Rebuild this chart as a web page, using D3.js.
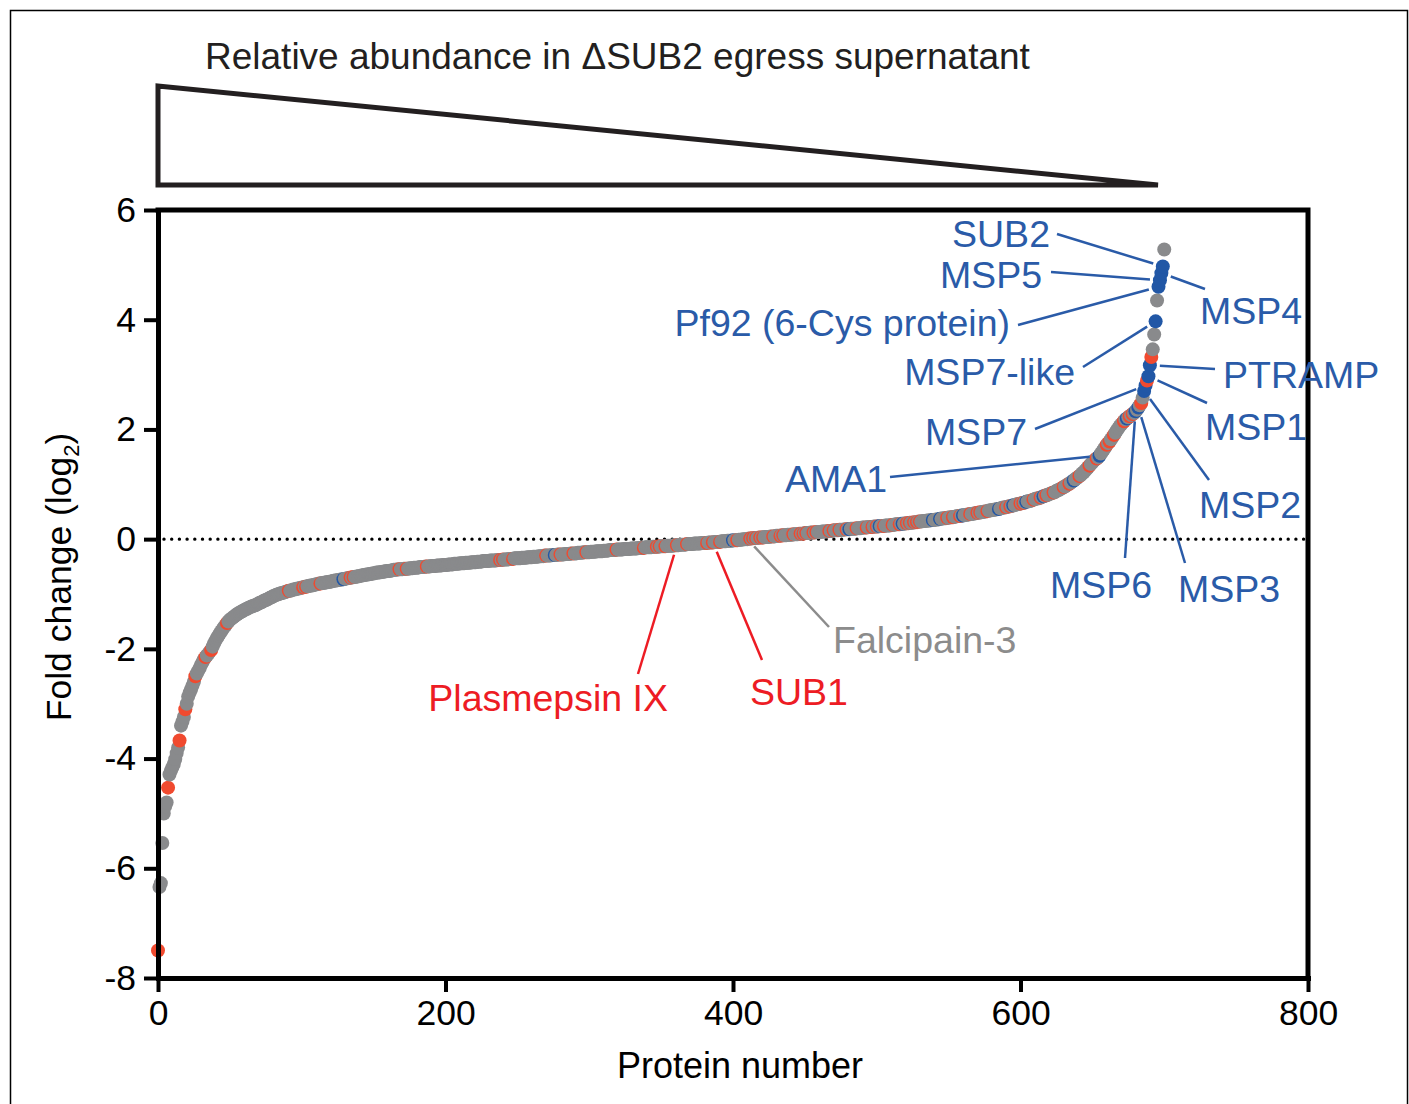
<!DOCTYPE html>
<html>
<head>
<meta charset="utf-8">
<script src="https://cdn.jsdelivr.net/npm/d3@7"></script>
<style>
  body { margin: 0; background: #fff; }
  text { font-family: "Liberation Sans", Arial, sans-serif; }
</style>
</head>
<body>
<svg id="chart"></svg>
<script>
// fold change (log2) per protein, sorted, protein number = index
const foldChange = [
  -7.50,-6.34,-6.27,-5.54,-5.00,-4.87,-4.80,-4.53,-4.29,-4.22,
  -4.16,-4.10,-4.01,-3.90,-3.80,-3.67,-3.40,-3.33,-3.24,-3.10,
  -3.00,-2.87,-2.80,-2.74,-2.67,-2.60,-2.50,-2.45,-2.40,-2.35,
  -2.29,-2.24,-2.19,-2.15,-2.12,-2.09,-2.05,-2.02,-1.96,-1.90,
  -1.85,-1.80,-1.76,-1.72,-1.68,-1.64,-1.60,-1.57,-1.53,-1.50,
  -1.47,-1.45,-1.43,-1.41,-1.39,-1.37,-1.35,-1.34,-1.32,-1.31,
  -1.29,-1.28,-1.27,-1.25,-1.24,-1.23,-1.22,-1.21,-1.20,-1.19,
  -1.17,-1.16,-1.15,-1.13,-1.12,-1.11,-1.10,-1.08,-1.07,-1.06,
  -1.04,-1.03,-1.02,-1.01,-1.00,-0.99,-0.98,-0.98,-0.97,-0.96,
  -0.95,-0.94,-0.94,-0.93,-0.92,-0.92,-0.91,-0.90,-0.90,-0.89,
  -0.88,-0.88,-0.87,-0.87,-0.86,-0.85,-0.85,-0.84,-0.84,-0.83,
  -0.82,-0.82,-0.81,-0.81,-0.80,-0.80,-0.79,-0.79,-0.78,-0.78,
  -0.77,-0.77,-0.76,-0.76,-0.75,-0.75,-0.74,-0.74,-0.73,-0.73,
  -0.72,-0.72,-0.71,-0.71,-0.70,-0.70,-0.69,-0.69,-0.68,-0.68,
  -0.67,-0.67,-0.66,-0.66,-0.65,-0.65,-0.64,-0.64,-0.63,-0.63,
  -0.62,-0.62,-0.61,-0.61,-0.61,-0.60,-0.60,-0.59,-0.59,-0.58,
  -0.58,-0.58,-0.57,-0.57,-0.56,-0.56,-0.56,-0.55,-0.55,-0.55,
  -0.55,-0.54,-0.54,-0.54,-0.54,-0.53,-0.53,-0.53,-0.52,-0.52,
  -0.52,-0.52,-0.51,-0.51,-0.51,-0.51,-0.50,-0.50,-0.50,-0.50,
  -0.49,-0.49,-0.49,-0.49,-0.48,-0.48,-0.48,-0.48,-0.47,-0.47,
  -0.47,-0.47,-0.46,-0.46,-0.46,-0.46,-0.45,-0.45,-0.45,-0.45,
  -0.44,-0.44,-0.44,-0.44,-0.43,-0.43,-0.43,-0.43,-0.42,-0.42,
  -0.42,-0.42,-0.41,-0.41,-0.41,-0.41,-0.40,-0.40,-0.40,-0.40,
  -0.40,-0.39,-0.39,-0.39,-0.39,-0.39,-0.38,-0.38,-0.38,-0.38,
  -0.37,-0.37,-0.37,-0.37,-0.36,-0.36,-0.36,-0.36,-0.35,-0.35,
  -0.35,-0.35,-0.35,-0.34,-0.34,-0.34,-0.34,-0.33,-0.33,-0.33,
  -0.33,-0.32,-0.32,-0.32,-0.32,-0.31,-0.31,-0.31,-0.31,-0.30,
  -0.30,-0.30,-0.30,-0.30,-0.29,-0.29,-0.29,-0.29,-0.28,-0.28,
  -0.28,-0.28,-0.28,-0.27,-0.27,-0.27,-0.27,-0.26,-0.26,-0.26,
  -0.26,-0.26,-0.25,-0.25,-0.25,-0.25,-0.24,-0.24,-0.24,-0.24,
  -0.24,-0.23,-0.23,-0.23,-0.23,-0.22,-0.22,-0.22,-0.22,-0.22,
  -0.21,-0.21,-0.21,-0.21,-0.20,-0.20,-0.20,-0.20,-0.20,-0.19,
  -0.19,-0.19,-0.19,-0.19,-0.18,-0.18,-0.18,-0.18,-0.18,-0.17,
  -0.17,-0.17,-0.17,-0.17,-0.16,-0.16,-0.16,-0.16,-0.16,-0.15,
  -0.15,-0.15,-0.15,-0.15,-0.14,-0.14,-0.14,-0.14,-0.14,-0.13,
  -0.13,-0.13,-0.13,-0.13,-0.12,-0.12,-0.12,-0.12,-0.12,-0.11,
  -0.11,-0.11,-0.11,-0.10,-0.10,-0.10,-0.10,-0.10,-0.09,-0.09,
  -0.09,-0.09,-0.09,-0.08,-0.08,-0.08,-0.08,-0.08,-0.07,-0.07,
  -0.07,-0.07,-0.07,-0.06,-0.06,-0.06,-0.06,-0.05,-0.05,-0.05,
  -0.05,-0.05,-0.04,-0.04,-0.04,-0.04,-0.03,-0.03,-0.03,-0.03,
  -0.02,-0.02,-0.02,-0.02,-0.01,-0.01,-0.01,0.00,0.00,0.00,
  0.00,0.01,0.01,0.01,0.02,0.02,0.02,0.02,0.03,0.03,
  0.03,0.03,0.04,0.04,0.04,0.04,0.05,0.05,0.05,0.05,
  0.06,0.06,0.06,0.06,0.07,0.07,0.07,0.07,0.08,0.08,
  0.08,0.08,0.09,0.09,0.09,0.09,0.10,0.10,0.10,0.10,
  0.11,0.11,0.11,0.11,0.12,0.12,0.12,0.12,0.13,0.13,
  0.13,0.13,0.14,0.14,0.14,0.14,0.15,0.15,0.15,0.15,
  0.16,0.16,0.16,0.16,0.17,0.17,0.17,0.17,0.18,0.18,
  0.18,0.18,0.19,0.19,0.19,0.19,0.20,0.20,0.20,0.20,
  0.21,0.21,0.21,0.21,0.22,0.22,0.22,0.22,0.23,0.23,
  0.23,0.23,0.24,0.24,0.24,0.24,0.25,0.25,0.25,0.25,
  0.26,0.26,0.26,0.27,0.27,0.27,0.27,0.28,0.28,0.28,
  0.29,0.29,0.29,0.30,0.30,0.30,0.31,0.31,0.31,0.32,
  0.32,0.32,0.33,0.33,0.33,0.34,0.34,0.34,0.35,0.35,
  0.35,0.36,0.36,0.36,0.37,0.37,0.38,0.38,0.38,0.39,
  0.39,0.40,0.40,0.40,0.41,0.41,0.42,0.42,0.42,0.43,
  0.43,0.44,0.44,0.45,0.45,0.46,0.46,0.46,0.47,0.47,
  0.48,0.48,0.49,0.49,0.50,0.50,0.51,0.51,0.52,0.52,
  0.53,0.53,0.54,0.54,0.55,0.55,0.56,0.57,0.57,0.58,
  0.58,0.59,0.60,0.60,0.61,0.62,0.62,0.63,0.64,0.64,
  0.65,0.66,0.66,0.67,0.68,0.69,0.69,0.70,0.71,0.72,
  0.73,0.74,0.74,0.75,0.76,0.77,0.78,0.79,0.80,0.81,
  0.82,0.83,0.84,0.85,0.86,0.88,0.89,0.90,0.92,0.93,
  0.95,0.96,0.98,1.00,1.01,1.03,1.05,1.07,1.09,1.11,
  1.13,1.15,1.17,1.20,1.22,1.25,1.28,1.31,1.34,1.37,
  1.40,1.43,1.45,1.47,1.49,1.52,1.56,1.60,1.64,1.68,
  1.72,1.75,1.78,1.82,1.86,1.90,1.94,1.98,2.02,2.06,
  2.09,2.12,2.15,2.18,2.20,2.22,2.24,2.26,2.28,2.30,
  2.33,2.36,2.40,2.44,2.48,2.58,2.70,2.80,2.89,2.97,
  3.17,3.32,3.46,3.73,3.97,4.35,4.60,4.72,4.85,4.97,
  5.28
];

// protein numbers coloured red / blue (rest grey)
const redProteins = [0,7,15,19,26,33,37,48,91,101,103,113,134,136,168,173,187,238,240,247,
  270,280,289,298,319,338,347,349,353,361,368,382,386,391,403,412,414,416,419,421,428,433,
  435,442,447,449,451,456,458,467,470,474,479,486,493,497,500,505,511,516,521,523,526,528,
  530,549,553,558,565,570,572,577,590,593,600,602,609,614,618,623,630,634,641,648,653,660,
  662,665,672,676,678,684,688,691];
const blueProteins = [129,276,400,481,502,518,539,544,560,585,595,604,616,637,655,674,680,
  682,686,687,689,690,694,696,697,698,699];

const xTicks = [0, 200, 400, 600, 800];
const yTicks = [-8, -6, -4, -2, 0, 2, 4, 6];

// callouts: name, protein pointed at, colour group
const calloutNames = ["SUB2", "MSP5", "Pf92 (6-Cys protein)", "MSP7-like", "MSP7", "AMA1",
  "MSP4", "PTRAMP", "MSP1", "MSP2", "MSP6", "MSP3", "Falcipain-3", "Plasmepsin IX", "SUB1"];
const calloutProteins = [699, 697, 696, 694, 687, 655, 698, 690, 689, 686, 680, 682, 410, 361, 386];
const calloutGroups = ["blue", "blue", "blue", "blue", "blue", "blue", "blue", "blue", "blue",
  "blue", "blue", "blue", "grey", "red", "red"];

// label placement [textX, textY, anchor, lineStartX, lineStartY]
const calloutLayout = [
  [1050, 247, "end", 1057, 234],
  [1042, 288, "end", 1051, 272],
  [1010, 336, "end", 1018, 325],
  [1075, 385, "end", 1083, 367],
  [1027, 445, "end", 1035, 429],
  [887, 492, "end", 890, 477],
  [1200, 324, "start", 1205, 289],
  [1223, 388, "start", 1215, 369],
  [1205, 440, "start", 1207, 403],
  [1199, 518, "start", 1209, 480],
  [1152, 598, "end", 1125, 558],
  [1178, 602, "start", 1185, 563],
  [833, 653, "start", 829, 627],
  [668, 711, "end", 638, 674],
  [750, 705, "start", 762, 660]
];

const colors = { grey: "#898a8c", red: "#f04a2f", blue: "#2157a6" };
const labelColors = { grey: "#8c8c8c", red: "#ed1c24", blue: "#2a5ba8" };

const width = 1409, height = 1104;
const font = "\"Liberation Sans\", Arial, sans-serif";

const svg = d3.select("#chart").attr("width", width).attr("height", height);

svg.append("rect")
  .attr("x", 10.5).attr("y", 10.5)
  .attr("width", 1397).attr("height", 1110)
  .attr("fill", "none").attr("stroke", "#000").attr("stroke-width", 1.5);

const x = d3.scaleLinear().domain([0, 800]).range([158, 1308]);
const y = d3.scaleLinear().domain([-8, 6]).range([978, 210]);

// abundance wedge + title
svg.append("text")
  .attr("x", 205).attr("y", 69)
  .attr("font-size", 37)
  .attr("fill", "#231f20")
  .text("Relative abundance in \u0394SUB2 egress supernatant");

svg.append("path")
  .attr("d", "M158,86 L158,185 L1158,185 Z")
  .attr("fill", "none").attr("stroke", "#231f20").attr("stroke-width", 5)
  .attr("stroke-linejoin", "miter");

// zero line
svg.append("line")
  .attr("x1", x(0) + 6).attr("x2", x(800))
  .attr("y1", y(0)).attr("y2", y(0))
  .attr("stroke", "#000").attr("stroke-width", 3.4)
  .attr("stroke-linecap", "round")
  .attr("stroke-dasharray", "0,7.7");

// points
const redSet = new Set(redProteins);
const blueSet = new Set(blueProteins);
const points = foldChange.map((v, i) => ({
  n: i, v: v,
  group: blueSet.has(i) ? "blue" : redSet.has(i) ? "red" : "grey"
}));

svg.append("g")
  .selectAll("circle")
  .data(points)
  .enter()
  .append("circle")
  .attr("cx", (d) => x(d.n))
  .attr("cy", (d) => y(d.v))
  .attr("r", 7)
  .attr("fill", (d) => colors[d.group]);

// axes
const yAxis = svg.append("g")
  .attr("transform", `translate(${x(0)},0)`)
  .call(d3.axisLeft(y).tickValues(yTicks).tickSize(14).tickSizeOuter(0).tickPadding(8)
    .tickFormat((d) => String(d)));

const xAxis = svg.append("g")
  .attr("transform", `translate(0,${y(-8)})`)
  .call(d3.axisBottom(x).tickValues(xTicks).tickSize(14).tickSizeOuter(0).tickPadding(8)
    .tickFormat((d) => String(d)));

[xAxis, yAxis].forEach((ax) => {
  ax.select(".domain").attr("stroke-width", 5).attr("stroke-linecap", "square");
  ax.selectAll(".tick line").attr("stroke-width", 4);
  ax.selectAll(".tick text").attr("font-size", 35.5).attr("font-family", font).attr("fill", "#000");
});

// top and right frame
svg.append("path")
  .attr("d", `M${x(0)},${y(6)} H${x(800)} V${y(-8)}`)
  .attr("fill", "none").attr("stroke", "#000").attr("stroke-width", 5)
  .attr("stroke-linecap", "square").attr("stroke-linejoin", "miter");

// axis titles
svg.append("text")
  .attr("x", 740).attr("y", 1078)
  .attr("text-anchor", "middle")
  .attr("font-size", 36)
  .text("Protein number");

const yLabel = svg.append("text")
  .attr("transform", "translate(71,577) rotate(-90)")
  .attr("text-anchor", "middle")
  .attr("font-size", 35.5);
yLabel.append("tspan").text("Fold change (log");
yLabel.append("tspan").attr("font-size", 22).attr("dy", 8).text("2");
yLabel.append("tspan").attr("dy", -8).text(")");

// callouts
const gap = 10;
calloutNames.forEach((name, i) => {
  const [tx, ty, anchor, sx, sy] = calloutLayout[i];
  const p = calloutProteins[i];
  const px = x(p), py = y(foldChange[p]);
  const dx = px - sx, dy = py - sy;
  const len = Math.sqrt(dx * dx + dy * dy);
  const col = labelColors[calloutGroups[i]];

  svg.append("line")
    .attr("x1", sx).attr("y1", sy)
    .attr("x2", px - (dx / len) * gap)
    .attr("y2", py - (dy / len) * gap)
    .attr("stroke", col).attr("stroke-width", 2.5);

  svg.append("text")
    .attr("x", tx).attr("y", ty)
    .attr("text-anchor", anchor)
    .attr("font-size", 37.5)
    .attr("fill", col)
    .text(name);
});
</script>
</body>
</html>
